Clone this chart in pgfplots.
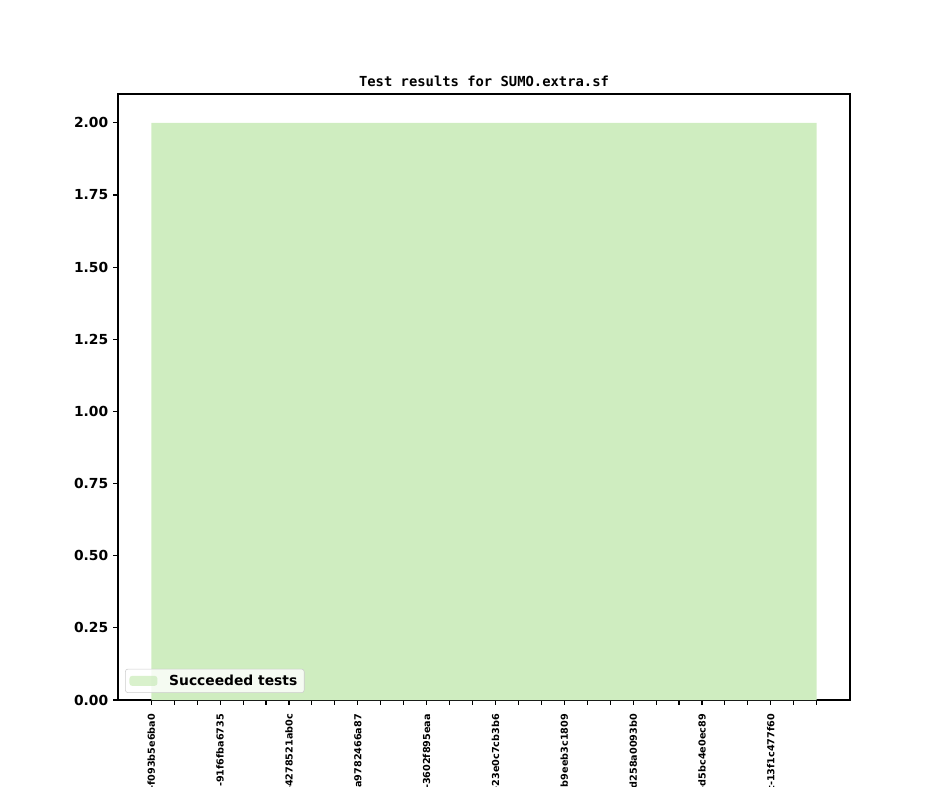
\documentclass[border=0pt]{standalone}
\usepackage{fontspec}
\setmainfont{DejaVu Sans}
\setmonofont{DejaVu Sans Mono}
\usepackage{pgfplots}
\pgfplotsset{compat=1.18}
\usepackage{pgfplotstable}
\definecolor{succ}{RGB}{207,237,192}
\definecolor{lgedge}{RGB}{204,204,204}

\pgfplotstableread{
x y
0 2
1 2
2 2
3 2
4 2
5 2
6 2
7 2
8 2
9 2
10 2
11 2
12 2
13 2
14 2
15 2
16 2
17 2
18 2
19 2
20 2
21 2
22 2
23 2
24 2
25 2
26 2
27 2
28 2
29 2
}\succdata

\begin{document}
\begin{tikzpicture}
\begin{axis}[
  name=ax,
  scale only axis,
  width=7.32in, height=6.06in,
  xmin=-1.45, xmax=30.45,
  ymin=0, ymax=2.1,
  axis line style={line width=0.8pt},
  tick align=outside,
  tick pos=left,
  major tick length=0.0486in,
  every tick/.style={black, line width=0.8pt},
  xtick={0,1,...,29},
  xticklabels={-f093b5e6ba0,,,-91f6fba6735,,,-4278521ab0c,,,-a9782466a87,,,-3602f895eaa,,,-23e0c7cb3b6,,,-b9eeb3c1809,,,-d258a0093b0,,,-d5bc4e0ec89,,,t-13f1c477f60,,},
  xticklabel style={rotate=90, anchor=east, font=\bfseries\fontsize{6.97pt}{8pt}\selectfont, inner sep=0pt},
  xticklabel shift=0.09in,
  ytick={0,0.25,...,2.0},
  yticklabel style={font=\bfseries, /pgf/number format/.cd, fixed, fixed zerofill, precision=2},
  /pgf/number format/assume math mode=true,
  title={Test results for SUMO.extra.sf},
  title style={font=\ttfamily\bfseries, anchor=south, yshift=-0.06in},
  legend style={at={(0.0096,0.0116)}, anchor=south west, draw=lgedge, fill=white, fill opacity=0.8, text opacity=1, rounded corners=2pt, font=\bfseries, inner xsep=3pt, inner ysep=2pt},
  legend cell align=left,
]
\addplot[fill=succ, draw=none,
  legend image code/.code={\fill[succ] (0in,-0.05in) rectangle (0.28in,0.05in); \path (0.37in,0);}]
  table[x=x,y=y] {\succdata} \closedcycle;
\addlegendentry{Succeeded tests}
\end{axis}
\pgfresetboundingbox
\path[use as bounding box] ([xshift=-1.18in,yshift=-0.87in]ax.south west) rectangle ([xshift=0.94in,yshift=0.94in]ax.north east);
\end{tikzpicture}
\end{document}
